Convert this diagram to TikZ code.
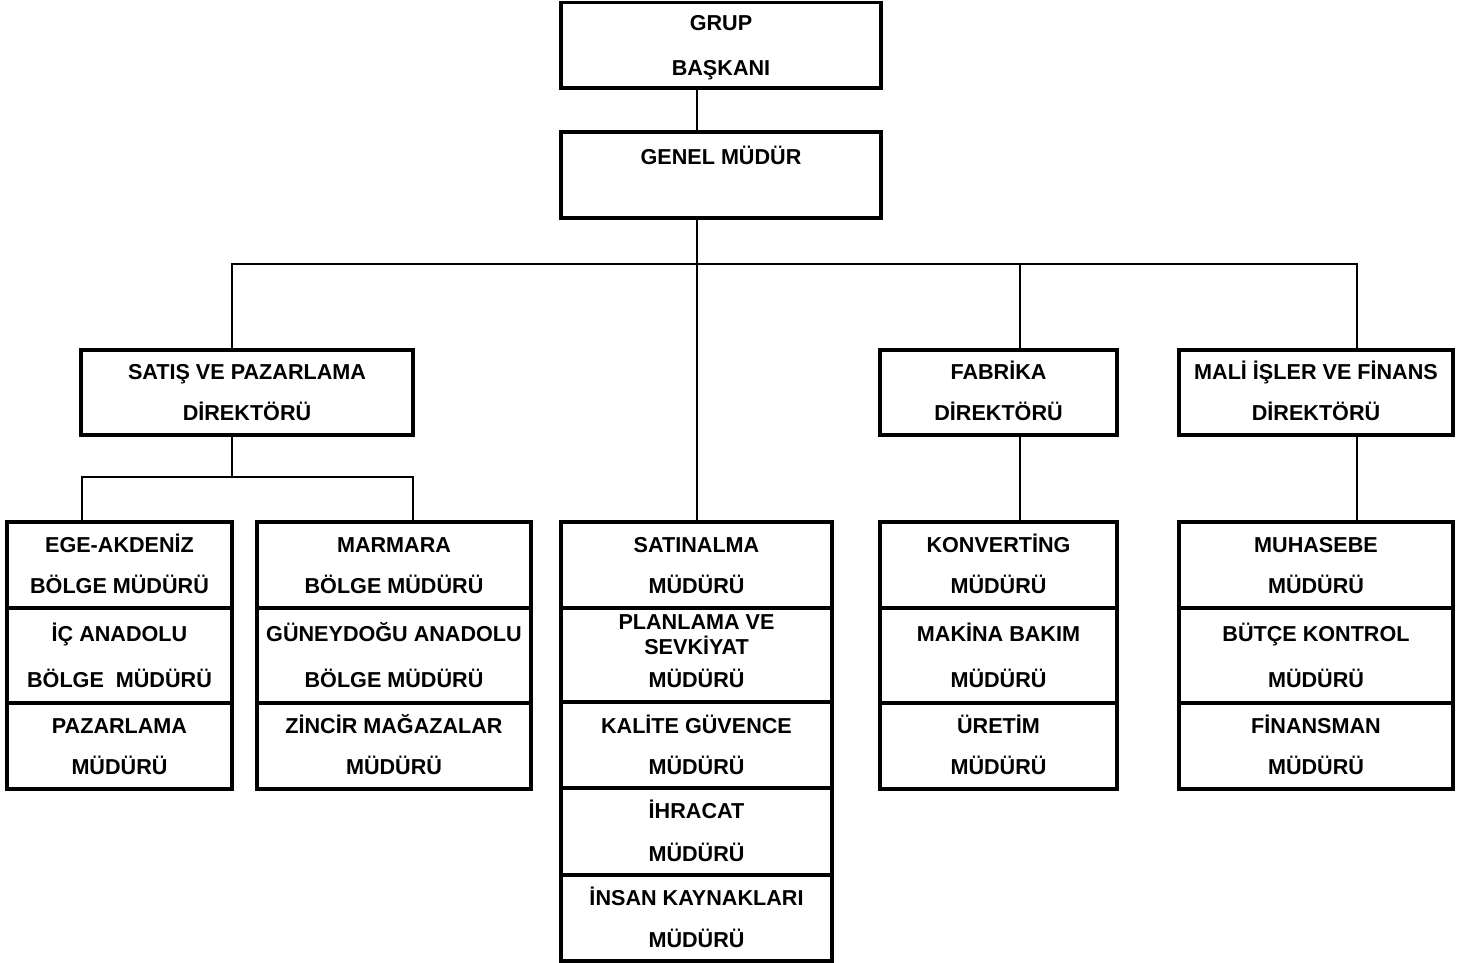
\documentclass[tikz,border=0pt]{standalone}
\usepackage{fontspec}
\setmainfont{Liberation Sans}
\begin{document}
\begin{tikzpicture}[x=1pt,y=-1pt,
  cellst/.style={draw=black, line width=3.4pt, rectangle, inner sep=0pt, outer sep=0pt},
  lbl/.style={font=\fontsize{21.6}{24}\selectfont\bfseries, inner sep=0pt, text height=15.4pt, text depth=0pt, anchor=center},
  conn/.style={draw=black, line width=2.2pt}]
\newcommand{\cellbox}[5]{\node[cellst, minimum width={(#4-#2)*1pt}, minimum height={(#5-#3)*1pt}] (#1) at ({(#2+#4)/2},{(#3+#5)/2}) {};}
\useasboundingbox (0,0) rectangle (1472,963);
% boxes
\cellbox{gb}{561}{2.5}{881}{88}
\cellbox{gm}{561}{132}{881}{218}
\cellbox{sp}{81}{350}{413}{435}
\cellbox{fd}{880}{350}{1117}{435}
\cellbox{md}{1179}{350}{1453}{435}
\cellbox{e1}{7}{522}{232}{608}
\cellbox{e2}{7}{608}{232}{703}
\cellbox{e3}{7}{703}{232}{789}
\cellbox{m1}{257}{522}{531}{608}
\cellbox{m2}{257}{608}{531}{703}
\cellbox{m3}{257}{703}{531}{789}
\cellbox{c1}{561}{522}{832}{608}
\cellbox{c2}{561}{608}{832}{702}
\cellbox{c3}{561}{702}{832}{788}
\cellbox{c4}{561}{788}{832}{875}
\cellbox{c5}{561}{875}{832}{961}
\cellbox{k1}{880}{522}{1117}{608}
\cellbox{k2}{880}{608}{1117}{703}
\cellbox{k3}{880}{703}{1117}{789}
\cellbox{f1}{1179}{522}{1453}{608}
\cellbox{f2}{1179}{608}{1453}{703}
\cellbox{f3}{1179}{703}{1453}{789}
% texts
\node[lbl] (tgb1) at (721,23) {GRUP};
\node[lbl] (tgb2) at (721,68) {BAŞKANI};
\node[lbl] (tgm1) at (721,157) {GENEL MÜDÜR};
\node[lbl] (tsp1) at (247,372) {SATIŞ VE PAZARLAMA};
\node[lbl] (tsp2) at (247,413) {DİREKTÖRÜ};
\node[lbl] (tfd1) at (998.5,372) {FABRİKA};
\node[lbl] (tfd2) at (998.5,413) {DİREKTÖRÜ};
\node[lbl] (tmd1) at (1316,372) {MALİ İŞLER VE FİNANS};
\node[lbl] (tmd2) at (1316,413) {DİREKTÖRÜ};
\node[lbl] (te11) at (119.5,545) {EGE-AKDENİZ};
\node[lbl] (te12) at (119.5,586) {BÖLGE MÜDÜRÜ};
\node[lbl] (te21) at (119.5,634) {İÇ ANADOLU};
\node[lbl] (te22) at (119.5,680) {BÖLGE\ \ MÜDÜRÜ};
\node[lbl] (te31) at (119.5,726) {PAZARLAMA};
\node[lbl] (te32) at (119.5,767) {MÜDÜRÜ};
\node[lbl] (tm11) at (394,545) {MARMARA};
\node[lbl] (tm12) at (394,586) {BÖLGE MÜDÜRÜ};
\node[lbl] (tm21) at (394,634) {GÜNEYDOĞU ANADOLU};
\node[lbl] (tm22) at (394,680) {BÖLGE MÜDÜRÜ};
\node[lbl] (tm31) at (394,726) {ZİNCİR MAĞAZALAR};
\node[lbl] (tm32) at (394,767) {MÜDÜRÜ};
\node[lbl] (tc11) at (696.5,545) {SATINALMA};
\node[lbl] (tc12) at (696.5,586) {MÜDÜRÜ};
\node[lbl] (tc21) at (696.5,622) {PLANLAMA VE};
\node[lbl] (tc22) at (696.5,647) {SEVKİYAT};
\node[lbl] (tc23) at (696.5,680) {MÜDÜRÜ};
\node[lbl] (tc31) at (696.5,726) {KALİTE GÜVENCE};
\node[lbl] (tc32) at (696.5,767) {MÜDÜRÜ};
\node[lbl] (tc41) at (696.5,811) {İHRACAT};
\node[lbl] (tc42) at (696.5,854) {MÜDÜRÜ};
\node[lbl] (tc51) at (696.5,898) {İNSAN KAYNAKLARI};
\node[lbl] (tc52) at (696.5,940) {MÜDÜRÜ};
\node[lbl] (tk11) at (998.5,545) {KONVERTİNG};
\node[lbl] (tk12) at (998.5,586) {MÜDÜRÜ};
\node[lbl] (tk21) at (998.5,634) {MAKİNA BAKIM};
\node[lbl] (tk22) at (998.5,680) {MÜDÜRÜ};
\node[lbl] (tk31) at (998.5,726) {ÜRETİM};
\node[lbl] (tk32) at (998.5,767) {MÜDÜRÜ};
\node[lbl] (tf11) at (1316,545) {MUHASEBE};
\node[lbl] (tf12) at (1316,586) {MÜDÜRÜ};
\node[lbl] (tf21) at (1316,634) {BÜTÇE KONTROL};
\node[lbl] (tf22) at (1316,680) {MÜDÜRÜ};
\node[lbl] (tf31) at (1316,726) {FİNANSMAN};
\node[lbl] (tf32) at (1316,767) {MÜDÜRÜ};
% connector coordinates
\coordinate (spine) at (697,264);
\coordinate (xsp) at (232,264);
\coordinate (xfd) at (1020,264);
\coordinate (xmd) at (1357,264);
\coordinate (sbar) at (232,477);
\coordinate (xe) at (82,477);
\coordinate (xm) at (413,477);
% connectors
\draw[conn] (gb.south -| spine) -- (gm.north -| spine);
\draw[conn] (gm.south -| spine) -- (spine);
\draw[conn, line cap=rect] (xsp) -- (xmd);
\draw[conn] (spine) -- (c1.north -| spine);
\draw[conn] (xsp) -- (sp.north -| xsp);
\draw[conn] (xfd) -- (fd.north -| xfd);
\draw[conn] (xmd) -- (md.north -| xmd);
\draw[conn] (sp.south -| sbar) -- (sbar);
\draw[conn, line join=miter] (e1.north -| xe) -- (xe) -- (xm) -- (m1.north -| xm);
\draw[conn] (fd.south -| xfd) -- (k1.north -| xfd);
\draw[conn] (md.south -| xmd) -- (f1.north -| xmd);
\end{tikzpicture}
\end{document}
